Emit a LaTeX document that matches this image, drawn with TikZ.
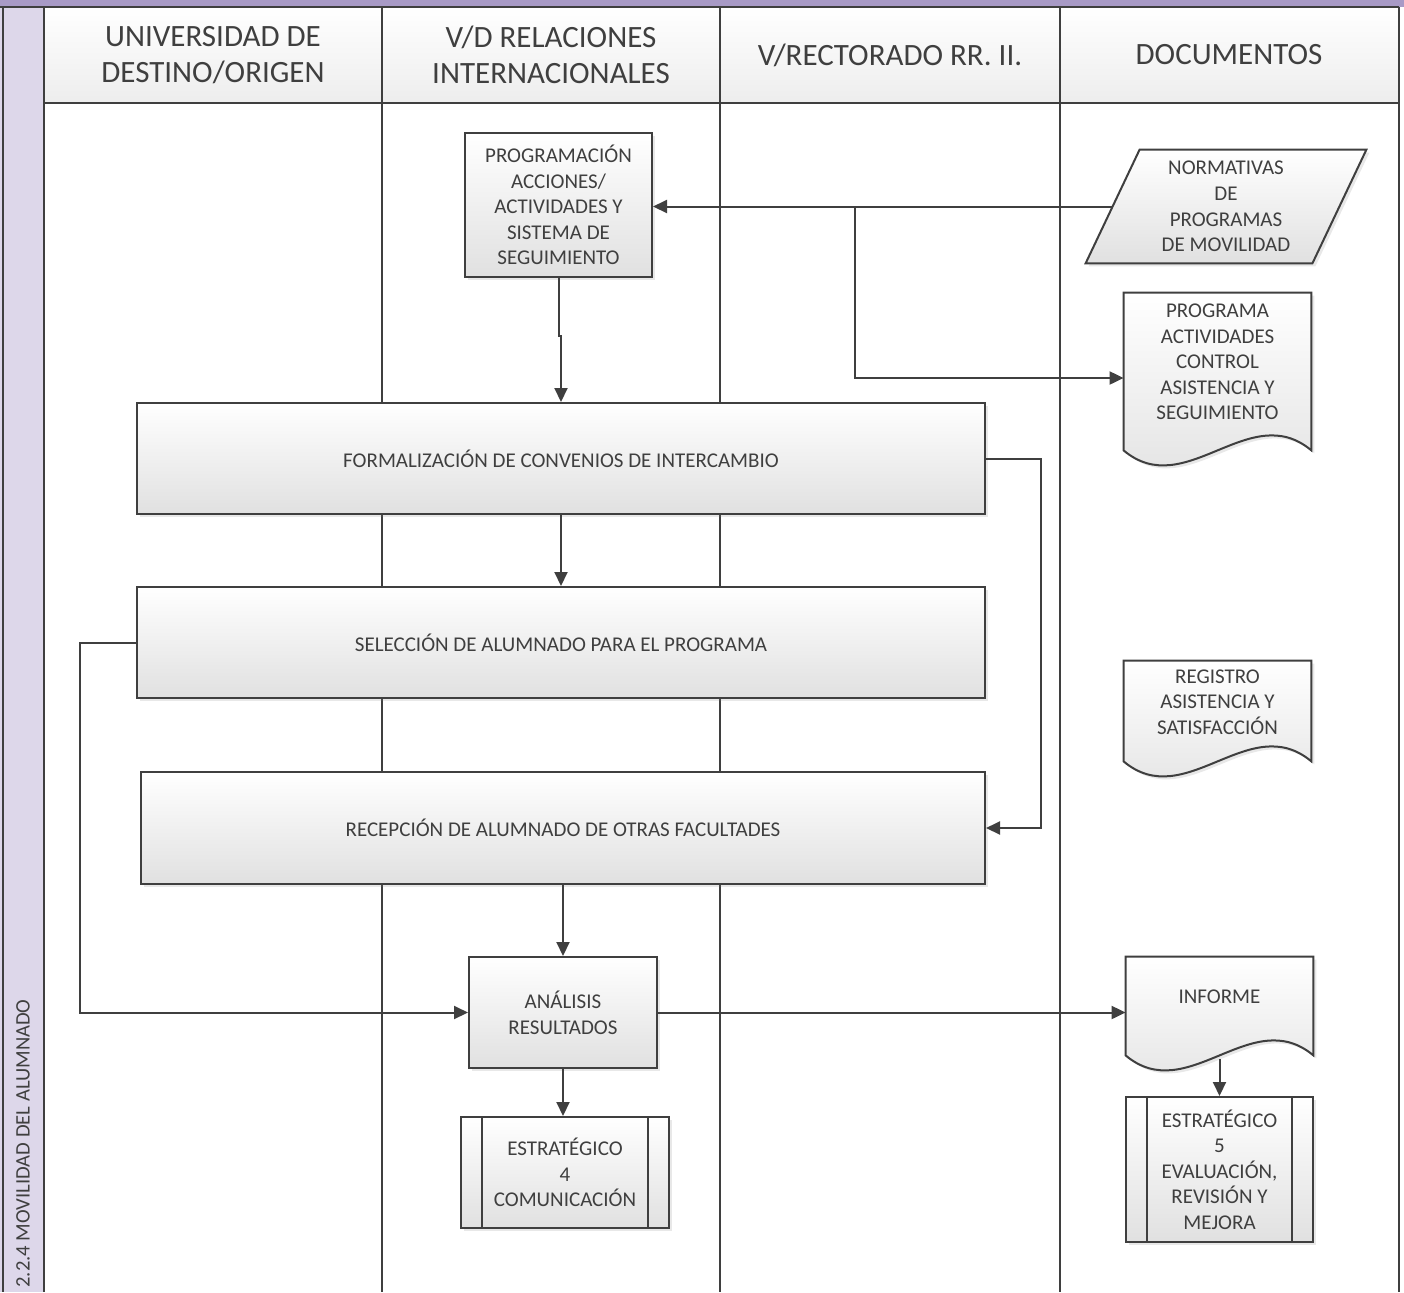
\documentclass[tikz,border=0pt]{standalone}
\usepackage{fontspec}
\setmainfont{Carlito}
\usetikzlibrary{calc,arrows.meta,shadows}

\definecolor{bandpurple}{HTML}{A89AC6}
\definecolor{striplilac}{HTML}{DDD7EA}
\definecolor{ink}{HTML}{3F3F3F}

\pgfdeclarelayer{back}
\pgfsetlayers{back,main}

\tikzset{
  laneline/.style={draw=ink,line width=1pt},
  lanehead/.style={font=\fontsize{15.5}{18}\selectfont,text=ink,align=center},
  proc/.style={draw=ink,line width=1pt,top color=white,bottom color=black!12,
    drop shadow={opacity=0.18,shadow xshift=1.5pt,shadow yshift=-1.5pt},
    align=center,text=ink,font=\fontsize{10.5}{12.8}\selectfont,inner sep=2pt},
  doctext/.style={align=center,text=ink,font=\fontsize{10.5}{12.8}\selectfont,inner sep=0pt},
  docshape/.style={draw=ink,line width=1pt,top color=white,bottom color=black!12,
    drop shadow={opacity=0.18,shadow xshift=1.5pt,shadow yshift=-1.5pt}},
  flow/.style={draw=ink,line width=1pt,-{Triangle[length=7pt,width=6.5pt]}},
}

% document outline with a wavy bottom; #2 = how far the sides run below the node
\newcommand{\wavedoc}[2]{%
  \draw[docshape] (#1.north west) -- (#1.north east) -- ($(#1.south east)+(0,#2)$)
    .. controls ($(#1.south east)+(-62,#2-52)$) and ($(#1.south west)+(62,#2+52)$) .. ($(#1.south west)+(0,#2)$) -- cycle;
}

\begin{document}
\begin{tikzpicture}[x=0.5pt,y=-0.5pt]
\useasboundingbox (0,0) rectangle (1404,1292);

% swimlanes
\fill[bandpurple] (0,0) rectangle (1404,7);
\fill[striplilac] (0,7) rectangle (44,1292);
\shade[top color=white,bottom color=black!7] (44,7) rectangle (1399,103);
\draw[laneline] (0,7) -- (1399,7);
\draw[laneline] (3,7) -- (3,1292);
\draw[laneline] (44,103) -- (1399,103);
\foreach \x in {44,382,720,1060,1399}{
	\draw[laneline] (\x,7) -- (\x,1292);
}

\node[lanehead] (h1) at (213,55) {UNIVERSIDAD DE\\DESTINO/ORIGEN};
\node[lanehead] (h2) at (551,55) {V/D RELACIONES\\INTERNACIONALES};
\node[lanehead] (h3) at (890,55) {V/RECTORADO RR. II.};
\node[lanehead] (h4) at (1229,55) {DOCUMENTOS};
\node[rotate=90,anchor=west,font=\fontsize{10.3}{12}\selectfont,text=ink,inner sep=1pt] (title) at (23,1290) {2.2.4 MOVILIDAD DEL ALUMNADO};

% process boxes
\node[proc,minimum width=93.5pt,minimum height=72pt] (prog) at (558.5,205) {PROGRAMACIÓN\\ACCIONES/\\ACTIVIDADES Y\\SISTEMA DE\\SEGUIMIENTO};
\node[proc,minimum width=424pt,minimum height=55.5pt] (form) at (561,458.5) {FORMALIZACIÓN DE CONVENIOS DE INTERCAMBIO};
\node[proc,minimum width=424pt,minimum height=55.5pt] (sel) at (561,642.5) {SELECCIÓN DE ALUMNADO PARA EL PROGRAMA};
\node[proc,minimum width=422pt,minimum height=56pt] (rec) at (563,828) {RECEPCIÓN DE ALUMNADO DE OTRAS FACULTADES};
\node[proc,minimum width=94pt,minimum height=55.5pt] (ana) at (563,1012.5) {ANÁLISIS\\RESULTADOS};
\node[proc,minimum width=104pt,minimum height=55.5pt] (est4) at (565,1172.5) {ESTRATÉGICO\\4\\COMUNICACIÓN};
\node[proc,minimum width=93.5pt,minimum height=72.5pt] (est5) at (1219.5,1169.5) {ESTRATÉGICO\\5\\EVALUACIÓN,\\REVISIÓN Y\\MEJORA};
\foreach \p in {est4,est5}{
	\draw[laneline] ($(\p.north west)+(22,0)$) -- ($(\p.south west)+(22,0)$);
	\draw[laneline] ($(\p.north east)+(-22,0)$) -- ($(\p.south east)+(-22,0)$);
}

% documents
\node[doctext,minimum width=113pt,minimum height=56.5pt] (norm) at (1226,206.5) {NORMATIVAS\\DE\\PROGRAMAS\\DE MOVILIDAD};
\node[doctext,minimum width=93.5pt,minimum height=69pt] (progact) at (1217.5,362) {PROGRAMA\\ACTIVIDADES\\CONTROL\\ASISTENCIA Y\\SEGUIMIENTO};
\node[doctext,minimum width=93.5pt,minimum height=41pt] (reg) at (1217.5,702) {REGISTRO\\ASISTENCIA Y\\SATISFACCIÓN};
\node[doctext,minimum width=93.5pt,minimum height=40pt] (inf) at (1219.5,997) {INFORME};
\begin{pgfonlayer}{back}
\draw[docshape] ($(norm.north west)+(27,0)$) -- ($(norm.north east)+(27,0)$) -- ($(norm.south east)+(-27,0)$) -- ($(norm.south west)+(-27,0)$) -- cycle;
\wavedoc{progact}{19}
\wavedoc{reg}{18}
\wavedoc{inf}{18}
\end{pgfonlayer}

% connectors
\coordinate (split) at (855,206.5);
\draw[flow] (norm.west) -- (norm.west -| prog.east);
\draw[flow] (split) |- ($(progact.west)+(0,16)$);
\draw[flow] (prog.south) -- ++(0,58) -| (form.north);
\draw[flow] (form.south) -- (sel.north);
\draw[flow] (form.east) -- ++(55,0) |- (rec.east);
\draw[flow] (sel.west) -- ++(-56,0) |- (ana.west);
\draw[flow] (rec.south) -- (ana.north);
\draw[flow] (ana.east) -- (ana.east -| inf.west);
\draw[flow] (ana.south) -- (ana.south |- est4.north);
\draw[flow] ($(inf.south)+(0,22)$) -- (inf.south |- est5.north);

\end{tikzpicture}
\end{document}
